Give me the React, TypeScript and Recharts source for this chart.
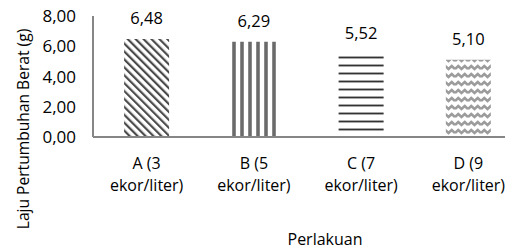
import { BarChart, Bar, XAxis, YAxis, Cell, LabelList } from "recharts";

const categories = ["A (3 ekor/liter)", "B (5 ekor/liter)", "C (7 ekor/liter)", "D (9 ekor/liter)"];
const values = [6.48, 6.29, 5.52, 5.1];
const yTicks = [0, 2, 4, 6, 8];
const patternIds = ["pat-diag", "pat-vert", "pat-horz", "pat-wave"];

const data = categories.map((c, i) => ({ name: c, value: values[i] }));

const FONT = "'Open Sans', sans-serif";
const AXIS = "#868686";

const fmt = (v: number) => v.toFixed(2).replace(".", ",");

function CategoryTick({ x, y, payload }: any) {
  const label: string = payload.value;
  const cut = label.indexOf(" ", 2);
  const lines = [label.slice(0, cut), label.slice(cut + 1)];
  return (
    <g>
      {lines.map((l, i) => (
        <text
          key={i}
          x={x}
          y={y + 32 + i * 22}
          textAnchor="middle"
          fontFamily={FONT}
          fontSize={16}
          fill="#000"
        >
          {l}
        </text>
      ))}
    </g>
  );
}

function YTitle() {
  const x = 23;
  const y = 129;
  return (
    <text
      x={x}
      y={y}
      transform={`rotate(-90, ${x}, ${y})`}
      textAnchor="middle"
      dominantBaseline="central"
      fontFamily={FONT}
      fontSize={15.6}
      fill="#000"
    >
      Laju Pertumbuhan Berat (g)
    </text>
  );
}

function XTitle() {
  return (
    <text x={325} y={245} textAnchor="middle" fontFamily={FONT} fontSize={16} fill="#000">
      Perlakuan
    </text>
  );
}

export default function App() {
  return (
    <div style={{ width: 513, height: 249, overflow: "hidden", margin: "-8px 0 0 -8px" }}>
      <BarChart
        width={530}
        height={249}
        data={data}
        margin={{ top: 16, right: 8, bottom: 0, left: 0 }}
        barCategoryGap="29%"
      >
        <defs>
          <pattern id="pat-diag" width="5.6" height="5.6" patternUnits="userSpaceOnUse" patternTransform="rotate(-45)">
            <rect width="5.6" height="5.6" fill="#fff" />
            <rect width="2.2" height="5.6" fill="#4a4a4a" />
          </pattern>
          <pattern id="pat-vert" width="8" height="8" patternUnits="userSpaceOnUse">
            <rect width="8" height="8" fill="#fff" />
            <rect x="0" width="4" height="8" fill="#8a8a8a" />
            <rect x="1" width="2" height="8" fill="#6a6a6a" />
          </pattern>
          <pattern id="pat-horz" width="8" height="8" patternUnits="userSpaceOnUse">
            <rect width="8" height="8" fill="#fff" />
            <rect y="0" width="8" height="3" fill="#c4c4c4" />
            <rect y="0.8" width="8" height="1.4" fill="#333" />
          </pattern>
          <pattern id="pat-wave" width="13" height="8" patternUnits="userSpaceOnUse">
            <rect width="13" height="8" fill="#fff" />
            <path d="M0 5 L3.25 2 L6.5 5 L9.75 2 L13 5" stroke="#9c9c9c" strokeWidth="2.6" fill="none" />
          </pattern>
        </defs>
        <XAxis
          dataKey="name"
          height={112}
          stroke={AXIS}
          strokeWidth={2}
          tickLine={false}
          tickSize={0}
          tickMargin={0}
          tick={<CategoryTick />}
          interval={0}
          label={<XTitle />}
        />
        <YAxis
          width={93}
          domain={[0, 8]}
          ticks={yTicks}
          interval={0}
          stroke={AXIS}
          strokeWidth={2}
          tickLine={false}
          tickSize={0}
          tickMargin={17}
          tickFormatter={fmt}
          tick={{ fontFamily: FONT, fontSize: 17, fill: "#000" }}
          label={<YTitle />}
        />
        <Bar dataKey="value" isAnimationActive={false}>
          {data.map((d, i) => (
            <Cell key={d.name} fill={`url(#${patternIds[i]})`} />
          ))}
          <LabelList
            dataKey="value"
            position="top"
            offset={15}
            formatter={(v: any) => fmt(Number(v))}
            style={{ fontFamily: FONT, fontSize: 16.5, fill: "#000" }}
          />
        </Bar>
      </BarChart>
    </div>
  );
}
